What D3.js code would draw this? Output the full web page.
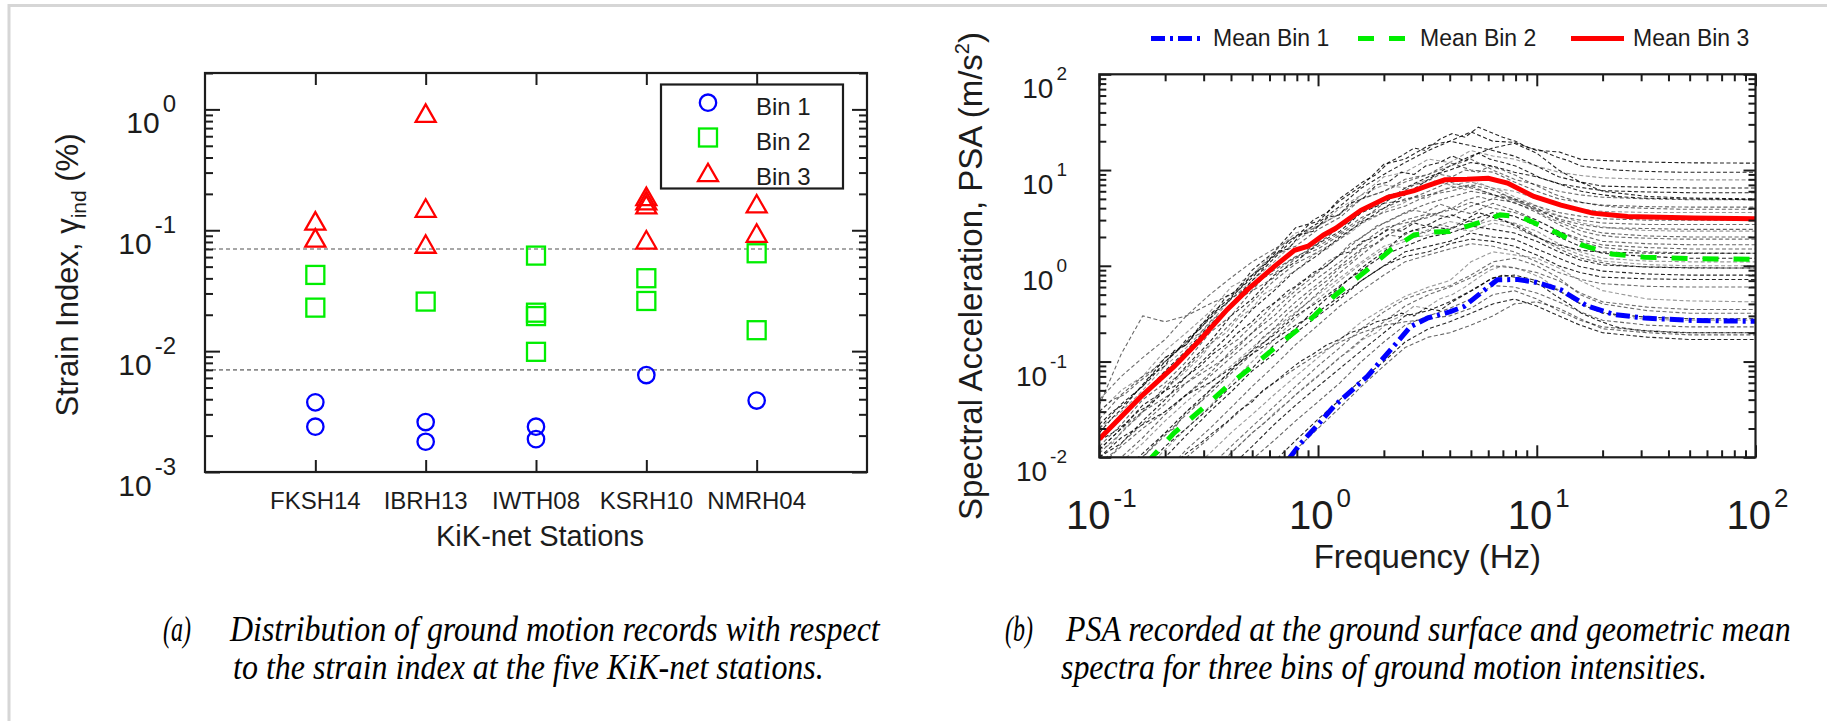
<!DOCTYPE html>
<html><head><meta charset="utf-8">
<script src="https://cdn.jsdelivr.net/npm/d3@7"></script>
<style>
html,body{margin:0;padding:0;background:#fff;}
svg{display:block;}
</style></head>
<body>
<svg id="fig" width="1827" height="721"></svg>
<script>
// ---------- (a) strain index at each KiK-net station ----------
const stations = ["FKSH14", "IBRH13", "IWTH08", "KSRH10", "NMRH04"];
const bin1Strain = [[0.00377, 0.00237], [0.00259, 0.00178], [0.00237, 0.00187], [0.00634], [0.0039]];
const bin2Strain = [[0.0427, 0.0229], [0.0257], [0.0617, 0.0208, 0.0195, 0.00987], [0.0401, 0.026], [0.0645, 0.0149]];
const bin3Strain = [[0.119, 0.086], [0.927, 0.152, 0.0766], [], [0.19, 0.175, 0.162, 0.083], [0.165, 0.0944]];
const binLimits = [0.007, 0.07];
const strainMajor = [1e-3, 1e-2, 1e-1, 1];
const strainExp = ["-3", "-2", "-1", "0"];
const binNames = ["Bin 1", "Bin 2", "Bin 3"];

// ---------- (b) PSA of the individual records (coarse frequency grid) ----------
const recFreq = [0.1, 0.126, 0.158, 0.2, 0.25, 0.32, 0.4, 0.5, 0.63, 0.79, 1, 1.26, 1.58, 2, 2.5, 3.2, 4, 5, 6.3, 7.9, 10, 12.6, 15.8, 20, 32, 50, 100];
const bin3Records = [
  [0.02, 0.036, 0.055, 0.11, 0.15, 0.31, 0.47, 0.9, 1.4, 2.5, 2.9, 4.8, 6.8, 11.5, 13, 18, 20, 25, 20, 19.5, 16, 15.5, 13, 12.6, 12.1, 11.9, 11.8],
  [0.03, 0.05, 0.07, 0.13, 0.2, 0.33, 0.6, 0.8, 1.4, 2.2, 2.6, 4.0, 5.5, 8.5, 9.5, 13, 12, 16, 14, 13, 11, 9.5, 8.8, 8.3, 8.0, 7.9, 7.9],
  [0.012, 0.02, 0.035, 0.05, 0.09, 0.16, 0.3, 0.45, 0.8, 1.1, 1.7, 2.3, 3.6, 4.5, 6.5, 8.5, 10, 12, 11, 9.5, 8.5, 7.2, 6.6, 6.1, 5.9, 5.8, 5.8],
  [0.035, 0.12, 0.3, 0.26, 0.3, 0.4, 0.5, 0.8, 1.3, 1.6, 2.4, 3.2, 5.0, 6.0, 8.0, 9.0, 12, 10, 9.5, 7.5, 6.0, 5.0, 4.6, 4.3, 4.15, 4.1, 4.1],
  [0.011, 0.018, 0.03, 0.055, 0.085, 0.15, 0.25, 0.42, 0.7, 1.05, 1.4, 1.9, 2.9, 3.6, 4.2, 5.5, 6.0, 6.8, 5.5, 4.8, 3.9, 3.3, 3.0, 2.8, 2.7, 2.7, 2.7],
  [0.013, 0.022, 0.04, 0.06, 0.1, 0.2, 0.3, 0.55, 0.75, 1.2, 1.5, 2.1, 3.0, 4.5, 4.8, 6.0, 7.5, 6.5, 5.6, 4.5, 3.8, 3.1, 2.7, 2.5, 2.45, 2.4, 2.4],
  [0.01, 0.014, 0.024, 0.04, 0.07, 0.12, 0.2, 0.35, 0.55, 0.9, 1.3, 2.0, 2.8, 4.0, 5.5, 8.0, 11, 14, 17, 19, 15, 10, 7.5, 6.0, 5.3, 5.1, 5.0],
  [0.02, 0.03, 0.05, 0.09, 0.14, 0.25, 0.45, 0.7, 1.1, 1.8, 2.6, 3.5, 5.5, 7.0, 6.5, 8.0, 7.0, 7.5, 6.5, 6.0, 5.0, 4.3, 3.9, 3.7, 3.6, 3.6, 3.6],
  [0.015, 0.026, 0.045, 0.08, 0.13, 0.24, 0.4, 0.7, 1.2, 2.0, 2.8, 4.2, 6.5, 9.0, 12, 16, 20, 18, 16, 14, 11, 8.5, 7.5, 6.8, 6.6, 6.5, 6.5],
  [0.025, 0.045, 0.07, 0.1, 0.16, 0.28, 0.45, 0.65, 0.9, 1.25, 1.6, 2.2, 3.2, 4.0, 5.0, 5.5, 6.5, 7.0, 6.2, 5.0, 4.2, 3.6, 3.3, 3.1, 3.0, 3.0, 3.0],
  [0.04, 0.07, 0.11, 0.17, 0.3, 0.5, 0.75, 1.1, 1.5, 2.0, 2.6, 3.5, 5.0, 6.0, 7.5, 9.0, 11, 13, 10, 8.0, 7.0, 6.0, 5.5, 5.2, 5.0, 4.9, 4.9]
];
const bin2Records = [
  [0.008, 0.013, 0.02, 0.03, 0.045, 0.07, 0.11, 0.17, 0.26, 0.42, 0.65, 1.0, 1.5, 2.3, 3.0, 3.5, 3.2, 4.2, 5.0, 4.6, 3.6, 2.7, 2.1, 1.8, 1.7, 1.66, 1.66],
  [0.003, 0.0045, 0.0075, 0.013, 0.02, 0.033, 0.055, 0.085, 0.15, 0.22, 0.38, 0.6, 0.95, 1.4, 2.2, 2.6, 2.4, 3.0, 3.6, 3.3, 2.6, 2.0, 1.6, 1.35, 1.25, 1.2, 1.2],
  [0.005, 0.009, 0.014, 0.024, 0.038, 0.06, 0.09, 0.14, 0.22, 0.33, 0.5, 0.75, 1.1, 1.6, 1.9, 2.1, 2.5, 2.3, 2.8, 2.5, 2.0, 1.6, 1.3, 1.12, 1.03, 1.0, 1.0],
  [0.002, 0.0035, 0.006, 0.01, 0.017, 0.03, 0.048, 0.08, 0.12, 0.2, 0.3, 0.45, 0.7, 1.0, 1.4, 1.6, 1.8, 2.2, 2.0, 1.9, 1.5, 1.2, 0.98, 0.88, 0.82, 0.8, 0.8],
  [0.012, 0.02, 0.03, 0.042, 0.06, 0.085, 0.12, 0.2, 0.3, 0.5, 0.75, 1.1, 1.7, 2.5, 2.8, 3.2, 4.0, 3.5, 4.5, 3.8, 3.0, 2.3, 1.8, 1.55, 1.4, 1.36, 1.35],
  [0.0015, 0.0025, 0.004, 0.007, 0.012, 0.02, 0.033, 0.055, 0.09, 0.15, 0.24, 0.38, 0.55, 0.8, 1.1, 1.3, 1.5, 1.7, 1.6, 1.4, 1.1, 0.85, 0.72, 0.65, 0.61, 0.6, 0.6],
  [0.006, 0.01, 0.016, 0.028, 0.045, 0.075, 0.13, 0.2, 0.35, 0.55, 0.85, 1.3, 2.0, 2.8, 3.6, 4.5, 5.2, 6.0, 5.5, 5.0, 4.0, 3.0, 2.5, 2.2, 2.05, 2.0, 2.0],
  [0.004, 0.007, 0.011, 0.018, 0.03, 0.05, 0.08, 0.13, 0.19, 0.3, 0.42, 0.62, 0.9, 1.3, 1.6, 2.0, 2.2, 2.6, 2.4, 2.2, 1.8, 1.4, 1.15, 1.02, 0.97, 0.95, 0.95],
  [0.0025, 0.004, 0.007, 0.012, 0.02, 0.034, 0.06, 0.1, 0.17, 0.28, 0.45, 0.7, 1.05, 1.5, 1.8, 2.4, 2.9, 2.6, 3.0, 2.8, 2.3, 1.7, 1.4, 1.2, 1.12, 1.1, 1.1],
  [0.01, 0.016, 0.022, 0.03, 0.045, 0.06, 0.085, 0.12, 0.17, 0.24, 0.33, 0.48, 0.7, 1.0, 1.25, 1.4, 1.7, 1.9, 1.8, 1.6, 1.3, 1.0, 0.85, 0.76, 0.73, 0.72, 0.72],
  [0.0035, 0.006, 0.01, 0.017, 0.028, 0.046, 0.075, 0.12, 0.2, 0.32, 0.52, 0.85, 1.3, 2.0, 2.6, 3.4, 3.8, 4.6, 4.0, 3.6, 3.0, 2.3, 1.9, 1.65, 1.55, 1.5, 1.5]
];
const bin1Records = [
  [0.0006, 0.001, 0.0016, 0.0026, 0.0042, 0.007, 0.011, 0.018, 0.028, 0.045, 0.07, 0.11, 0.17, 0.26, 0.38, 0.5, 0.6, 0.75, 1.0, 0.95, 0.85, 0.7, 0.52, 0.42, 0.37, 0.35, 0.35],
  [0.0003, 0.0005, 0.0008, 0.0013, 0.0022, 0.0037, 0.006, 0.0095, 0.015, 0.024, 0.038, 0.06, 0.1, 0.16, 0.24, 0.3, 0.36, 0.45, 0.62, 0.6, 0.52, 0.42, 0.33, 0.27, 0.24, 0.23, 0.23],
  [0.0002, 0.0003, 0.0005, 0.0008, 0.0013, 0.0021, 0.0035, 0.0056, 0.009, 0.015, 0.025, 0.04, 0.065, 0.1, 0.16, 0.22, 0.26, 0.32, 0.4, 0.45, 0.38, 0.3, 0.24, 0.2, 0.18, 0.17, 0.17],
  [0.001, 0.0016, 0.0026, 0.0042, 0.0068, 0.011, 0.018, 0.028, 0.045, 0.07, 0.11, 0.17, 0.26, 0.36, 0.48, 0.6, 0.7, 1.1, 1.4, 1.3, 1.2, 0.95, 0.7, 0.55, 0.45, 0.43, 0.42],
  [0.0004, 0.0007, 0.0011, 0.0018, 0.003, 0.005, 0.008, 0.013, 0.022, 0.035, 0.055, 0.085, 0.13, 0.2, 0.3, 0.34, 0.42, 0.55, 0.75, 0.8, 0.7, 0.55, 0.4, 0.32, 0.29, 0.28, 0.28],
  [0.0015, 0.0025, 0.004, 0.0065, 0.01, 0.016, 0.025, 0.04, 0.06, 0.085, 0.12, 0.16, 0.2, 0.24, 0.26, 0.28, 0.3, 0.36, 0.5, 0.55, 0.45, 0.34, 0.27, 0.23, 0.21, 0.2, 0.2],
  [0.0008, 0.0013, 0.002, 0.0032, 0.005, 0.008, 0.013, 0.021, 0.034, 0.055, 0.09, 0.14, 0.22, 0.33, 0.45, 0.55, 0.62, 0.8, 1.1, 1.2, 1.0, 0.75, 0.5, 0.4, 0.34, 0.32, 0.32],
  [0.0001, 0.0002, 0.0004, 0.0006, 0.001, 0.0017, 0.0028, 0.0045, 0.0075, 0.012, 0.02, 0.033, 0.055, 0.09, 0.14, 0.18, 0.2, 0.24, 0.3, 0.4, 0.42, 0.36, 0.28, 0.22, 0.2, 0.19, 0.19]
];

// ---------- (b) PSA of further records (fine frequency grid) ----------
const fineFreq = [0.1, 0.115, 0.13, 0.15, 0.17, 0.2, 0.22, 0.25, 0.29, 0.33, 0.38, 0.43, 0.5, 0.56, 0.64, 0.73, 0.83, 0.95, 1.1, 1.25, 1.4, 1.6, 1.85, 2.1, 2.4, 2.75, 3.1, 3.6, 4.1, 4.7, 5.4, 6.1, 7, 8, 9.2, 10.5, 12, 14, 16, 19, 23, 30, 45, 70, 100];
const fineRecords = [
  [0.022, 0.03, 0.036, 0.05, 0.07, 0.09, 0.13, 0.15, 0.24, 0.3, 0.48, 0.55, 0.8, 0.95, 1.4, 1.5, 2.1, 2.3, 3.2, 3.4, 4.5, 5.0, 7.0, 7.5, 9.5, 9.0, 11, 12, 14, 12.5, 15, 13, 12, 11, 9.5, 8.2, 7.5, 6.6, 6.0, 5.6, 5.3, 5.1, 5.0, 4.95, 4.9],
  [0.012, 0.014, 0.02, 0.026, 0.036, 0.05, 0.062, 0.08, 0.11, 0.16, 0.2, 0.28, 0.36, 0.5, 0.6, 0.8, 0.95, 1.3, 1.5, 1.9, 2.2, 2.8, 3.3, 4.0, 4.4, 5.2, 5.0, 6.0, 6.8, 6.2, 7.4, 6.6, 6.0, 5.2, 4.6, 4.0, 3.5, 3.1, 2.8, 2.6, 2.45, 2.35, 2.3, 2.3, 2.3],
  [0.018, 0.026, 0.034, 0.05, 0.065, 0.1, 0.12, 0.17, 0.22, 0.32, 0.4, 0.55, 0.75, 1.0, 1.3, 1.8, 2.2, 3.0, 3.6, 5.0, 6.0, 7.5, 9.0, 12, 14, 17, 16, 21, 24, 22, 28, 25, 22, 20, 17, 16, 14, 12.5, 11, 10.5, 10, 9.7, 9.5, 9.5, 9.5],
  [0.03, 0.04, 0.045, 0.06, 0.075, 0.11, 0.12, 0.16, 0.2, 0.28, 0.33, 0.45, 0.55, 0.75, 0.85, 1.1, 1.3, 1.6, 2.0, 2.5, 2.9, 3.8, 4.2, 5.5, 5.8, 7.0, 7.5, 9.0, 8.5, 10, 9.5, 11, 10, 8.8, 7.5, 6.5, 5.6, 5.0, 4.6, 4.3, 4.1, 4.0, 3.9, 3.9, 3.9],
  [0.009, 0.011, 0.015, 0.02, 0.026, 0.036, 0.045, 0.06, 0.08, 0.1, 0.14, 0.17, 0.24, 0.3, 0.42, 0.5, 0.68, 0.8, 1.1, 1.3, 1.7, 2.0, 2.6, 2.9, 3.4, 3.8, 3.6, 4.4, 4.0, 4.8, 5.3, 4.9, 5.6, 4.8, 4.2, 3.5, 3.0, 2.6, 2.3, 2.1, 2.0, 1.95, 1.9, 1.9, 1.9],
  [0.004, 0.005, 0.007, 0.009, 0.012, 0.018, 0.02, 0.03, 0.038, 0.055, 0.07, 0.1, 0.13, 0.18, 0.23, 0.32, 0.4, 0.55, 0.7, 0.95, 1.1, 1.5, 1.7, 2.1, 2.0, 2.4, 2.2, 2.7, 2.5, 3.0, 2.8, 3.3, 3.0, 2.7, 2.3, 1.9, 1.6, 1.35, 1.2, 1.1, 1.02, 0.98, 0.96, 0.95, 0.95],
  [0.015, 0.018, 0.022, 0.03, 0.035, 0.05, 0.055, 0.07, 0.09, 0.12, 0.15, 0.2, 0.26, 0.34, 0.42, 0.55, 0.65, 0.85, 1.0, 1.3, 1.4, 1.8, 2.0, 2.4, 2.3, 2.8, 2.6, 3.1, 3.4, 3.0, 3.6, 3.3, 3.0, 2.6, 2.2, 1.9, 1.7, 1.55, 1.45, 1.4, 1.38, 1.36, 1.35, 1.35, 1.35],
  [0.0005, 0.0007, 0.0009, 0.0013, 0.0017, 0.0025, 0.003, 0.004, 0.0055, 0.0075, 0.01, 0.013, 0.018, 0.022, 0.03, 0.038, 0.05, 0.065, 0.085, 0.11, 0.13, 0.17, 0.2, 0.26, 0.3, 0.38, 0.36, 0.45, 0.5, 0.6, 0.75, 0.9, 1.0, 0.95, 0.85, 0.75, 0.6, 0.48, 0.4, 0.34, 0.3, 0.28, 0.27, 0.27, 0.27],
  [0.002, 0.0026, 0.0032, 0.004, 0.005, 0.007, 0.0085, 0.011, 0.014, 0.018, 0.023, 0.03, 0.038, 0.05, 0.062, 0.08, 0.1, 0.12, 0.15, 0.17, 0.2, 0.22, 0.26, 0.28, 0.32, 0.3, 0.36, 0.34, 0.42, 0.5, 0.6, 0.72, 0.8, 0.76, 0.7, 0.62, 0.5, 0.4, 0.32, 0.27, 0.23, 0.21, 0.2, 0.2, 0.2]
];

// ---------- (b) geometric mean spectra ----------
const mean1Freq = [0.74, 0.834, 1.0, 1.18, 1.68, 2.15, 2.65, 3.16, 4.0, 4.65, 5.55, 6.6, 8.2, 10, 12.9, 17, 22.6, 31, 52, 100];
const mean1Psa  = [0.0098, 0.014, 0.022, 0.034, 0.07, 0.133, 0.232, 0.284, 0.33, 0.376, 0.52, 0.714, 0.72, 0.67, 0.56, 0.38, 0.31, 0.285, 0.268, 0.263];
const mean2Freq = [0.165, 0.22, 0.29, 0.385, 0.51, 0.675, 0.9, 1.18, 1.68, 2.15, 2.75, 3.4, 4.0, 5.4, 6.8, 8.4, 12, 16, 22, 31, 50, 100];
const mean2Psa  = [0.0088, 0.018, 0.031, 0.055, 0.092, 0.156, 0.26, 0.478, 0.91, 1.47, 2.1, 2.25, 2.28, 2.8, 3.4, 3.27, 2.28, 1.65, 1.33, 1.23, 1.19, 1.17];
const mean3Freq = [0.1, 0.155, 0.22, 0.29, 0.385, 0.475, 0.63, 0.78, 0.9, 1.06, 1.2, 1.57, 2.08, 2.75, 3.2, 3.8, 4.8, 6.0, 7.35, 9.7, 12.9, 18, 26, 52, 100];
const mean3Psa  = [0.0155, 0.043, 0.089, 0.17, 0.35, 0.56, 0.98, 1.45, 1.6, 2.1, 2.45, 3.8, 5.2, 6.1, 6.9, 7.9, 8.0, 8.2, 7.3, 5.3, 4.3, 3.55, 3.27, 3.15, 3.1];
const meanNames = ["Mean Bin 1", "Mean Bin 2", "Mean Bin 3"];

const captionA = ["(a)", "Distribution of ground motion records with respect", "to the strain index at the five KiK-net stations."];
const captionB = ["(b)", "PSA recorded at the ground surface and geometric mean", "spectra for three bins of ground motion intensities."];

// ---------- helpers ----------
const svg = d3.select("#fig");
const SANS = "'Liberation Sans', Arial, Helvetica, sans-serif";
const SERIF = "'Liberation Serif', 'Times New Roman', serif";
const INK = "#1c1c1c";
const BLUE = "#0000ff", GREEN = "#00ee00", RED = "#ff0000";

function logTicks(lo, hi) {
  const major = [], minor = [];
  for (let e = Math.floor(Math.log10(lo)); e <= Math.ceil(Math.log10(hi)); e++) {
    for (let k = 1; k <= 9; k++) {
      const v = k * Math.pow(10, e);
      if (v < lo * 0.999 || v > hi * 1.001) continue;
      (k === 1 ? major : minor).push(v);
    }
  }
  return { major, minor };
}

function tickRow(parent, axisFn, scale, values, size, transform) {
  const g = parent.append("g").attr("transform", transform)
    .call(axisFn(scale).tickValues(values).tickSize(-size).tickSizeOuter(0).tickFormat(""));
  g.select(".domain").remove();
  g.selectAll(".tick line").attr("stroke", INK).attr("stroke-width", 2);
  return g;
}

function powLabel(parent, x, y, exp, baseSize, supSize, raise, anchor) {
  const t = parent.append("text").attr("x", x).attr("y", y).attr("text-anchor", anchor)
    .attr("font-family", SANS).attr("font-size", baseSize).attr("fill", INK);
  t.append("tspan").text("10");
  t.append("tspan").attr("dx", 3).attr("dy", -raise).attr("font-size", supSize).text(exp);
}

// outer frame lines
svg.append("path").attr("d", "M9,721V5.5H1827").attr("fill", "none")
  .attr("stroke", "#d6d6d6").attr("stroke-width", 3);

// ================= panel (a) =================
const PA = { l: 205, r: 867, t: 73, b: 472 };
const xA = d3.scaleLinear().domain([0, stations.length + 1]).range([PA.l, PA.r]);
const yA = d3.scaleLog().domain([1e-3, 2]).range([PA.b, PA.t]);
const gA = svg.append("g");

gA.selectAll("line.limit").data(binLimits).join("line").attr("class", "limit")
  .attr("x1", PA.l).attr("x2", PA.r).attr("y1", d => yA(d)).attr("y2", d => yA(d))
  .attr("stroke", "#8a8a8a").attr("stroke-width", 1.6).attr("stroke-dasharray", "4,3");

const sA = logTicks(1e-3, 2);
tickRow(gA, d3.axisLeft, yA, sA.major, 15, `translate(${PA.l},0)`);
tickRow(gA, d3.axisLeft, yA, sA.minor, 8, `translate(${PA.l},0)`);
tickRow(gA, d3.axisRight, yA, sA.major, 15, `translate(${PA.r},0)`);
tickRow(gA, d3.axisRight, yA, sA.minor, 8, `translate(${PA.r},0)`);
const stIdx = d3.range(1, stations.length + 1);
tickRow(gA, d3.axisBottom, xA, stIdx, 12, `translate(0,${PA.b})`);
tickRow(gA, d3.axisTop, xA, stIdx, 12, `translate(0,${PA.t})`);

gA.append("rect").attr("x", PA.l).attr("y", PA.t).attr("width", PA.r - PA.l).attr("height", PA.b - PA.t)
  .attr("fill", "none").attr("stroke", INK).attr("stroke-width", 2.2);

const pts = arr => arr.flatMap((vals, i) => vals.map(v => ({ i: i + 1, v })));
const triPath = (cx, cy) => `M${cx},${cy - 9}L${cx + 10},${cy + 8.5}L${cx - 10},${cy + 8.5}Z`;

gA.selectAll("circle.b1").data(pts(bin1Strain)).join("circle").attr("class", "b1")
  .attr("cx", d => xA(d.i)).attr("cy", d => yA(d.v)).attr("r", 8.2)
  .attr("fill", "none").attr("stroke", BLUE).attr("stroke-width", 2.3);
gA.selectAll("rect.b2").data(pts(bin2Strain)).join("rect").attr("class", "b2")
  .attr("x", d => xA(d.i) - 9).attr("y", d => yA(d.v) - 9).attr("width", 18).attr("height", 18)
  .attr("fill", "none").attr("stroke", GREEN).attr("stroke-width", 2.3);
gA.selectAll("path.b3").data(pts(bin3Strain)).join("path").attr("class", "b3")
  .attr("d", d => triPath(xA(d.i), yA(d.v)))
  .attr("fill", "none").attr("stroke", RED).attr("stroke-width", 2.3);

// legend (a)
const legA = gA.append("g");
legA.append("rect").attr("x", 661).attr("y", 84.5).attr("width", 182).attr("height", 104)
  .attr("fill", "#fff").attr("stroke", INK).attr("stroke-width", 2.2);
const legRows = [102.7, 137.5, 172.7];
legA.append("circle").attr("cx", 708).attr("cy", legRows[0]).attr("r", 8.2)
  .attr("fill", "none").attr("stroke", BLUE).attr("stroke-width", 2.3);
legA.append("rect").attr("x", 699).attr("y", legRows[1] - 9).attr("width", 18).attr("height", 18)
  .attr("fill", "none").attr("stroke", GREEN).attr("stroke-width", 2.3);
legA.append("path").attr("d", triPath(708, legRows[2]))
  .attr("fill", "none").attr("stroke", RED).attr("stroke-width", 2.3);
legA.selectAll("text").data(binNames).join("text")
  .attr("x", 756).attr("y", (d, i) => legRows[i] + 12)
  .attr("font-family", SANS).attr("font-size", 24).attr("fill", INK).text(d => d);

// axis labels (a)
gA.selectAll("text.st").data(stations).join("text").attr("class", "st")
  .attr("x", (d, i) => xA(i + 1)).attr("y", 509).attr("text-anchor", "middle")
  .attr("font-family", SANS).attr("font-size", 24).attr("fill", INK).text(d => d);
strainMajor.forEach((v, i) => powLabel(gA, 176, yA(v) + 24, strainExp[i], 30, 24, 21, "end"));
gA.append("text").attr("x", 540).attr("y", 546).attr("text-anchor", "middle")
  .attr("font-family", SANS).attr("font-size", 29).attr("fill", INK).text("KiK-net Stations");
const ttlA = gA.append("text").attr("transform", "translate(78,275) rotate(-90)").attr("text-anchor", "middle")
  .attr("font-family", SANS).attr("font-size", 31).attr("fill", INK);
ttlA.append("tspan").text("Strain Index, \u03B3");
ttlA.append("tspan").attr("font-size", 21).attr("dy", 8).text("ind");
ttlA.append("tspan").attr("dy", -8).text(" (%)");

// ================= panel (b) =================
const PB = { l: 1099.3, r: 1755.5, t: 74.3, b: 457.3 };
const xB = d3.scaleLog().domain([0.1, 100]).range([PB.l, PB.r]);
const yB = d3.scaleLog().domain([0.01, 100]).range([PB.b, PB.t]);
const gB = svg.append("g");

svg.append("defs").append("clipPath").attr("id", "clipB").append("rect")
  .attr("x", PB.l).attr("y", PB.t).attr("width", PB.r - PB.l).attr("height", PB.b - PB.t);

const line = d3.line().x(d => xB(d[0])).y(d => yB(d[1]));
const plotB = gB.append("g").attr("clip-path", "url(#clipB)");

const records = [
  ...[...bin3Records, ...bin2Records, ...bin1Records].map(vals => vals.map((v, k) => [recFreq[k], v])),
  ...fineRecords.map(vals => vals.map((v, k) => [fineFreq[k], v]))
];
plotB.selectAll("path.rec").data(records).join("path").attr("class", "rec")
  .attr("d", line)
  .attr("fill", "none").attr("stroke", (d, i) => (i % 3 === 1 ? "#555" : "#000"))
  .attr("stroke-opacity", (d, i) => (i % 2 ? 0.6 : 0.85))
  .attr("stroke-width", 1.1).attr("stroke-dasharray", "4,2.5");

const means = [
  { f: mean1Freq, v: mean1Psa, color: BLUE, dash: "14,5,3,5" },
  { f: mean2Freq, v: mean2Psa, color: GREEN, dash: "16,15" },
  { f: mean3Freq, v: mean3Psa, color: RED, dash: null }
];
plotB.selectAll("path.mean").data(means).join("path").attr("class", "mean")
  .attr("d", m => line(m.f.map((f, k) => [f, m.v[k]])))
  .attr("fill", "none").attr("stroke", m => m.color).attr("stroke-width", 5)
  .attr("stroke-dasharray", m => m.dash);

const sX = logTicks(0.1, 100), sY = logTicks(0.01, 100);
tickRow(gB, d3.axisLeft, yB, sY.major, 12, `translate(${PB.l},0)`);
tickRow(gB, d3.axisLeft, yB, sY.minor, 7, `translate(${PB.l},0)`);
tickRow(gB, d3.axisRight, yB, sY.major, 12, `translate(${PB.r},0)`);
tickRow(gB, d3.axisRight, yB, sY.minor, 7, `translate(${PB.r},0)`);
tickRow(gB, d3.axisBottom, xB, sX.major, 12, `translate(0,${PB.b})`);
tickRow(gB, d3.axisBottom, xB, sX.minor, 7, `translate(0,${PB.b})`);
tickRow(gB, d3.axisTop, xB, sX.major, 12, `translate(0,${PB.t})`);
tickRow(gB, d3.axisTop, xB, sX.minor, 7, `translate(0,${PB.t})`);

gB.append("rect").attr("x", PB.l).attr("y", PB.t).attr("width", PB.r - PB.l).attr("height", PB.b - PB.t)
  .attr("fill", "none").attr("stroke", INK).attr("stroke-width", 2.2);

sY.major.forEach(v => powLabel(gB, 1067, yB(v) + 24, String(Math.round(Math.log10(v))), 28, 19, 18, "end"));
sX.major.forEach(v => powLabel(gB, xB(v) + 2, 529, String(Math.round(Math.log10(v))), 40, 26, 22, "middle"));

gB.append("text").attr("x", (PB.l + PB.r) / 2).attr("y", 568).attr("text-anchor", "middle")
  .attr("font-family", SANS).attr("font-size", 33).attr("fill", INK).text("Frequency (Hz)");
const ttlB = gB.append("text").attr("transform", "translate(982,276) rotate(-90)").attr("text-anchor", "middle")
  .attr("font-family", SANS).attr("font-size", 33).attr("fill", INK);
ttlB.append("tspan").text("Spectral Acceleration, PSA (m/s");
ttlB.append("tspan").attr("font-size", 20).attr("dy", -13).text("2");
ttlB.append("tspan").attr("dy", 13).text(")");

// legend (b)
const legX = [1151, 1358, 1571];
const legB = gB.append("g");
legB.selectAll("line").data(means).join("line")
  .attr("x1", (d, i) => legX[i]).attr("x2", (d, i) => legX[i] + 53).attr("y1", 38.5).attr("y2", 38.5)
  .attr("stroke", d => d.color).attr("stroke-width", 5).attr("stroke-dasharray", d => d.dash);
legB.selectAll("text").data(meanNames).join("text")
  .attr("x", (d, i) => legX[i] + 62).attr("y", 45.5)
  .attr("font-family", SANS).attr("font-size", 23).attr("fill", INK).text(d => d);

// ================= captions (narrow italic serif, squeezed to the column width) =================
function squeezedText(parent, str, x, y, width) {
  const t = parent.append("text").attr("x", 0).attr("y", 0).text(str);
  const natural = t.node().getComputedTextLength();
  const sx = width ? width / natural : 0.8;
  t.attr("transform", `translate(${x},${y}) scale(${sx},1)`);
}
function caption(c, xTag, xText, widths) {
  const g = svg.append("g").attr("font-family", SERIF).attr("font-style", "italic")
    .attr("font-size", 36).attr("fill", "#000");
  squeezedText(g, c[0], xTag, 641, 28);
  squeezedText(g, c[1], xText[0], 641, widths[0]);
  squeezedText(g, c[2], xText[1], 679, widths[1]);
}
caption(captionA, 163, [230, 233], [650, 591]);
caption(captionB, 1005, [1066, 1061], [725, 646]);
</script>
</body></html>
